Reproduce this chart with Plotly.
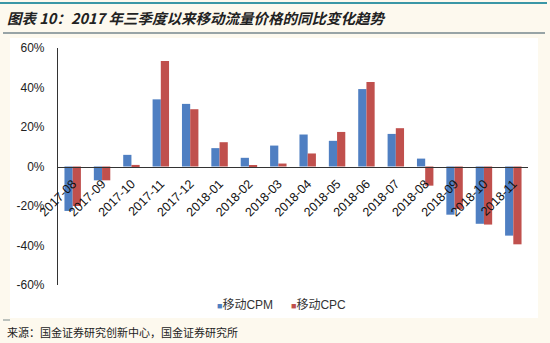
import plotly.graph_objects as go

categories = ["2017-08", "2017-09", "2017-10", "2017-11", "2017-12", "2018-01", "2018-02",
              "2018-03", "2018-04", "2018-05", "2018-06", "2018-07", "2018-08", "2018-09",
              "2018-10", "2018-11"]
cpm = [-22.5, -7.0, 5.9, 34.0, 31.7, 9.3, 4.4, 10.6, 16.2, 13.0, 39.2, 16.5, 4.0, -24.4, -29.0, -35.0]
cpc = [-20.0, -7.0, 0.8, 53.4, 29.0, 12.3, 0.3, 1.5, 6.6, 17.5, 42.8, 19.4, -9.7, -21.5, -29.4, -39.4]
series_names = ["移动CPM", "移动CPC"]
y_ticks = [-60, -40, -20, 0, 20, 40, 60]
y_tick_labels = ["-60%", "-40%", "-20%", "0%", "20%", "40%", "60%"]
title_text = "图表 10：2017 年三季度以来移动流量价格的同比变化趋势"
source_text = "来源：国金证券研究创新中心，国金证券研究所"

BLUE = "#4f7fc2"
RED = "#c0504d"
FONT = "Liberation Sans, Arial, Noto Sans CJK SC, sans-serif"
CJK = "Noto Sans CJK SC, sans-serif"

fig = go.Figure()
fig.add_trace(go.Bar(x=categories, y=cpm, name=series_names[0], marker_color=BLUE,
                     marker_line_width=0, showlegend=False))
fig.add_trace(go.Bar(x=categories, y=cpc, name=series_names[1], marker_color=RED,
                     marker_line_width=0, showlegend=False))

fig.update_layout(
    width=550, height=343,
    margin=dict(l=58, r=22, t=48, b=58),
    paper_bgcolor="#fdf9ee",
    plot_bgcolor="rgba(0,0,0,0)",
    barmode="group", bargap=0.44, bargroupgap=0,
    font=dict(family=FONT, size=12, color="#222222"),
    xaxis=dict(
        type="category", range=[-0.5, 15.5], anchor="free", position=0.5,
        showline=True, linecolor="#333333", linewidth=1.2,
        showgrid=False, zeroline=False, ticks="", tickangle=-45,
        tickfont=dict(family=FONT, size=12.5, color="#111111"),
        ticklabelstandoff=4,
    ),
    yaxis=dict(
        range=[-60, 60], tickvals=y_ticks, ticktext=y_tick_labels,
        showline=True, linecolor="#333333", linewidth=1.2,
        showgrid=False, zeroline=False, ticks="",
        tickfont=dict(family=FONT, size=12, color="#222222"),
        ticklabelstandoff=10,
    ),
    shapes=[
        dict(type="rect", xref="paper", yref="paper", layer="below",
             x0=-48 / 470, x1=(538 - 58) / 470, y0=-(318 - 285) / 237, y1=(285 - 38) / 237,
             fillcolor="#ffffff", line_width=0),
        dict(type="line", xref="paper", yref="paper",
             x0=-58 / 470, x1=(547 - 58) / 470, y0=(285 - 3) / 237, y1=(285 - 3) / 237,
             line=dict(color="#3a97a6", width=2)),
        dict(type="line", xref="paper", yref="paper",
             x0=-55 / 470, x1=(545 - 58) / 470, y0=(285 - 33) / 237, y1=(285 - 33) / 237,
             line=dict(color="#98a4a6", width=2)),
        dict(type="line", xref="paper", yref="paper",
             x0=-55 / 470, x1=-48 / 470, y0=-(320 - 285) / 237, y1=-(320 - 285) / 237,
             line=dict(color="#7a8a8a", width=1)),
    ],
    annotations=[
        dict(text="<b><i>" + title_text + "</i></b>", xref="paper", yref="paper",
             x=-53 / 470, y=(285 - 17) / 237, xanchor="left", yanchor="middle",
             showarrow=False, font=dict(family=CJK, size=14.5, color="#222222")),
        dict(text=source_text, xref="paper", yref="paper",
             x=-53 / 470, y=-(332 - 285) / 237, xanchor="left", yanchor="middle",
             showarrow=False, font=dict(family=CJK, size=11, color="#222222")),
        dict(text='<span style="color:%s;font-size:9px">■</span>%s' % (BLUE, series_names[0]),
             xref="paper", yref="paper", x=(215 - 58) / 470, y=-(305 - 285) / 237,
             xanchor="left", yanchor="middle", showarrow=False,
             font=dict(family=FONT, size=12, color="#333333")),
        dict(text='<span style="color:%s;font-size:9px">■</span>%s' % (RED, series_names[1]),
             xref="paper", yref="paper", x=(289 - 58) / 470, y=-(305 - 285) / 237,
             xanchor="left", yanchor="middle", showarrow=False,
             font=dict(family=FONT, size=12, color="#333333")),
    ],
)

fig.write_html("out.html")
